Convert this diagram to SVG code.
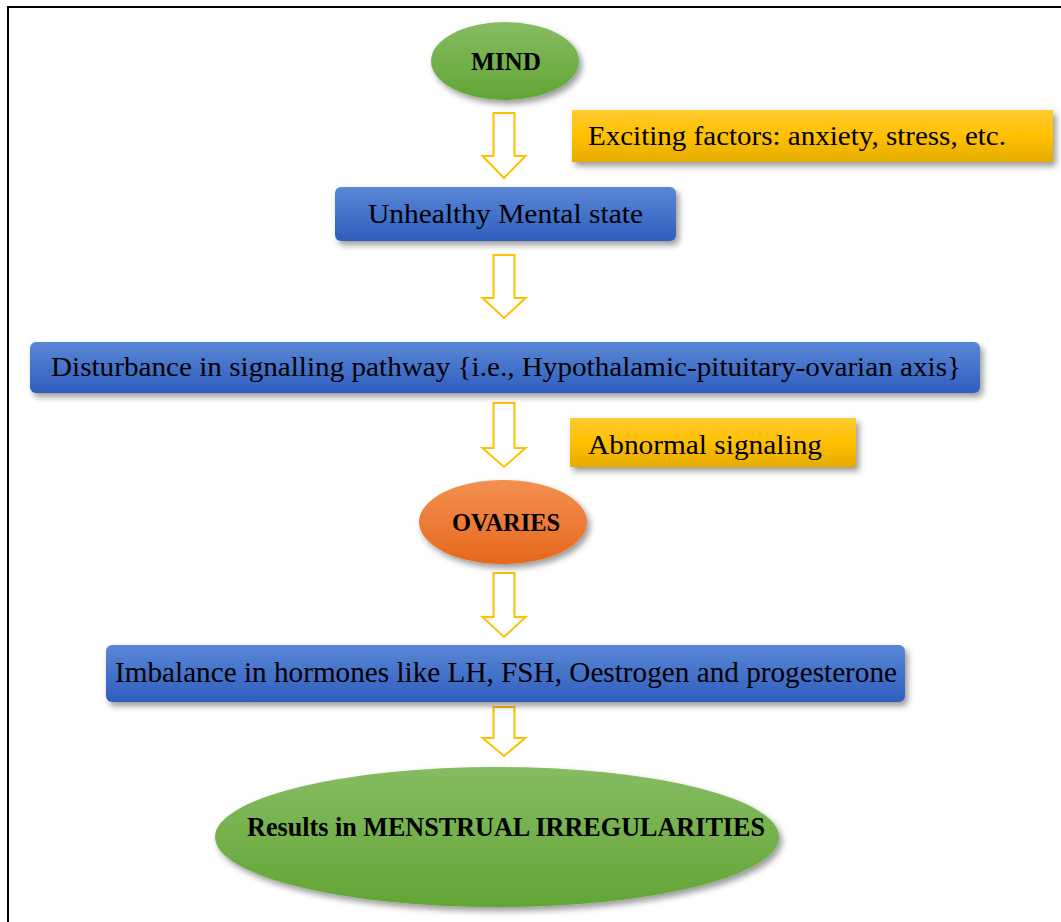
<svg xmlns="http://www.w3.org/2000/svg" width="1061" height="922" viewBox="0 0 1061 922">
<defs>
<linearGradient id="gBlue" x1="0" y1="0" x2="0" y2="1"><stop offset="0" stop-color="#5A87D6"/><stop offset="1" stop-color="#2F5EBE"/></linearGradient>
<linearGradient id="gYel" x1="0" y1="0" x2="0" y2="1"><stop offset="0" stop-color="#FFCB33"/><stop offset="0.5" stop-color="#FFC000"/><stop offset="1" stop-color="#E5AC00"/></linearGradient>
<linearGradient id="gGreen" x1="0" y1="0" x2="0" y2="1"><stop offset="0" stop-color="#86BC62"/><stop offset="1" stop-color="#62A535"/></linearGradient>
<linearGradient id="gOrange" x1="0" y1="0" x2="0" y2="1"><stop offset="0" stop-color="#F39050"/><stop offset="1" stop-color="#E6681C"/></linearGradient>
<filter id="sh" x="-10%" y="-20%" width="125%" height="150%"><feDropShadow dx="3" dy="4" stdDeviation="3" flood-color="#000" flood-opacity="0.4"/></filter>
</defs>
<style>
.t{font-family:"Liberation Serif","DejaVu Serif",serif;fill:#000;}
.b{font-weight:bold;}
.arrow{fill:#fff;stroke:#FFC000;stroke-width:2;stroke-linejoin:miter;}
</style>
<rect width="1061" height="922" fill="#fff"/>
<path d="M8,922 V7 H1061" fill="none" stroke="#000" stroke-width="2"/>

<g id="connectors">
<polygon class="arrow" points="493.5,113 514.5,113 514.5,156 525.5,156 504,178 482.5,156 493.5,156"/>
<polygon class="arrow" points="493.5,255 514.5,255 514.5,298 525.5,298 504,318 482.5,298 493.5,298"/>
<polygon class="arrow" points="493.5,403 514.5,403 514.5,448 525.5,448 504,467 482.5,448 493.5,448"/>
<polygon class="arrow" points="493.5,573 514.5,573 514.5,617 525.5,617 504,637 482.5,617 493.5,617"/>
<polygon class="arrow" points="493.5,707 514.5,707 514.5,738 525.5,738 504,756 482.5,738 493.5,738"/>
</g>

<g id="mind">
<ellipse cx="505" cy="61" rx="74" ry="39" fill="url(#gGreen)" filter="url(#sh)"/>
<text class="t b" x="506" y="70" font-size="25" text-anchor="middle" textLength="70" lengthAdjust="spacingAndGlyphs">MIND</text>
</g>

<g id="exciting">
<rect x="572" y="110" width="481" height="52" fill="url(#gYel)" filter="url(#sh)"/>
<text class="t" x="588" y="145" font-size="27" textLength="418" lengthAdjust="spacingAndGlyphs">Exciting factors: anxiety, stress, etc.</text>
</g>

<g id="unhealthy">
<rect x="335" y="187" width="341" height="54" rx="6" fill="url(#gBlue)" filter="url(#sh)"/>
<text class="t" x="368" y="223" font-size="27" textLength="275" lengthAdjust="spacingAndGlyphs">Unhealthy Mental state</text>
</g>

<g id="disturbance">
<rect x="30" y="342" width="950" height="51" rx="6" fill="url(#gBlue)" filter="url(#sh)"/>
<text class="t" x="51" y="376" font-size="27" textLength="910" lengthAdjust="spacingAndGlyphs">Disturbance in signalling pathway {i.e., Hypothalamic-pituitary-ovarian axis}</text>
</g>

<g id="abnormal">
<rect x="570" y="418" width="286" height="49" fill="url(#gYel)" filter="url(#sh)"/>
<text class="t" x="588" y="454" font-size="27" textLength="234" lengthAdjust="spacingAndGlyphs">Abnormal signaling</text>
</g>

<g id="ovaries">
<ellipse cx="503" cy="522" rx="84" ry="42" fill="url(#gOrange)" filter="url(#sh)"/>
<text class="t b" x="506" y="531" font-size="25" text-anchor="middle" textLength="108" lengthAdjust="spacingAndGlyphs">OVARIES</text>
</g>

<g id="imbalance">
<rect x="106" y="645" width="799" height="57" rx="6" fill="url(#gBlue)" filter="url(#sh)"/>
<text class="t" x="115" y="682" font-size="29" textLength="782" lengthAdjust="spacingAndGlyphs">Imbalance in hormones like LH, FSH, Oestrogen and progesterone</text>
</g>

<g id="results">
<ellipse cx="497" cy="837" rx="282" ry="70" fill="url(#gGreen)" filter="url(#sh)"/>
<text class="t b" x="247" y="836" font-size="28" textLength="518" lengthAdjust="spacingAndGlyphs">Results in MENSTRUAL IRREGULARITIES</text>
</g>
</svg>
